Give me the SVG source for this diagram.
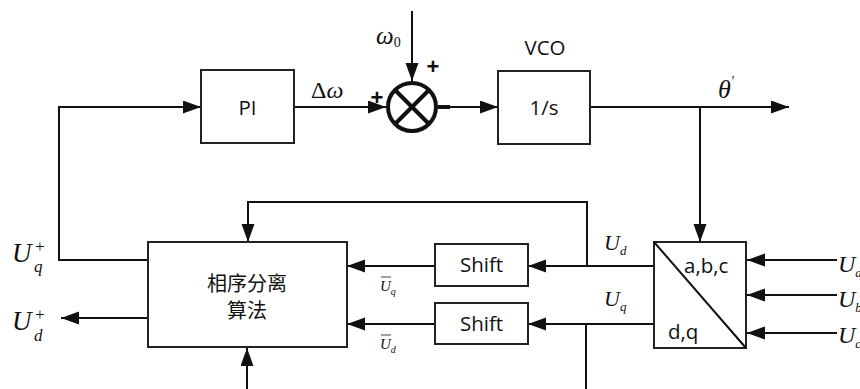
<svg xmlns="http://www.w3.org/2000/svg" width="860" height="389" viewBox="0 0 860 389">
<style>
.box{fill:#fff;stroke:#222;stroke-width:2}
.ln{fill:none;stroke:#111;stroke-width:2}
.arr{marker-end:url(#ah)}
.t{font-family:"Open Sans","Liberation Sans",sans-serif;font-size:20.5px;fill:#111}
.m{font-family:"Liberation Serif",serif;font-style:italic;fill:#111}
.cjk{font-family:"Liberation Sans","Noto Sans CJK SC",sans-serif;font-size:20px;fill:#111}
.pm{font-family:"Liberation Sans",sans-serif;font-size:22px;font-weight:bold;fill:#111}
</style>
<defs>
<marker id="ah" markerUnits="userSpaceOnUse" markerWidth="18" markerHeight="14" refX="18" refY="6.5" orient="auto">
<path d="M0,0 L18,6.5 L0,13 z" fill="#111"/>
</marker>
</defs>
<g id="connectors">
<polyline class="ln arr" points="148,260 59,260 59,107 201,107"/>
<line class="ln arr" x1="294" y1="107" x2="386" y2="107"/>
<line class="ln arr" x1="412" y1="11" x2="412" y2="81"/>
<line x1="438" y1="107" x2="450" y2="107" stroke="#111" stroke-width="4"/>
<line class="ln arr" x1="450" y1="107" x2="498" y2="107"/>
<line class="ln arr" x1="590" y1="107" x2="789" y2="107"/>
<line class="ln arr" x1="700" y1="107" x2="700" y2="242"/>
<line class="ln arr" x1="837" y1="260" x2="747" y2="260"/>
<line class="ln arr" x1="837" y1="295" x2="747" y2="295"/>
<line class="ln arr" x1="837" y1="333" x2="747" y2="333"/>
<line class="ln arr" x1="654" y1="266" x2="528" y2="266"/>
<line class="ln arr" x1="654" y1="324" x2="528" y2="324"/>
<line class="ln arr" x1="435" y1="266" x2="347" y2="266"/>
<line class="ln arr" x1="435" y1="324" x2="347" y2="324"/>
<polyline class="ln arr" points="587,266 587,202 248,202 248,242"/>
<line class="ln" x1="586" y1="324" x2="586" y2="389"/>
<line class="ln arr" x1="247" y1="389" x2="247" y2="348"/>
<line class="ln arr" x1="148" y1="318" x2="61" y2="318"/>
</g>
<g id="pi">
<rect class="box" x="201" y="70" width="93" height="73"/>
<text class="t" x="247.5" y="115" text-anchor="middle">PI</text>
</g>
<g id="sum">
<circle cx="412" cy="107" r="24" fill="#fff" stroke="#111" stroke-width="4"/>
<line x1="395" y1="90" x2="429" y2="124" stroke="#111" stroke-width="4"/>
<line x1="429" y1="90" x2="395" y2="124" stroke="#111" stroke-width="4"/>
<text class="pm" x="433" y="74" text-anchor="middle">+</text>
<text class="pm" x="377" y="105" text-anchor="middle">+</text>
</g>
<g id="vco">
<rect class="box" x="498" y="71" width="92" height="73"/>
<text class="t" x="544" y="115" text-anchor="middle">1/s</text>
<text class="t" x="545" y="55" text-anchor="middle">VCO</text>
</g>
<g id="transform">
<rect class="box" x="654" y="242" width="92" height="106"/>
<line class="ln" x1="654" y1="242" x2="746" y2="348"/>
<text class="t" x="684" y="273">a,b,c</text>
<text class="t" x="668" y="339">d,q</text>
</g>
<g id="shift1">
<rect class="box" x="435" y="244" width="93" height="42"/>
<text class="t" x="481.5" y="272" text-anchor="middle">Shift</text>
</g>
<g id="shift2">
<rect class="box" x="435" y="303" width="93" height="41"/>
<text class="t" x="481.5" y="331" text-anchor="middle">Shift</text>
</g>
<g id="separation">
<rect class="box" x="148" y="242" width="199" height="105"/>
<text class="cjk" x="247" y="291" text-anchor="middle">相序分离</text>
<text class="cjk" x="247" y="318" text-anchor="middle">算法</text>
</g>
<g id="labels">
<text class="m" x="376" y="44" font-size="25">ω<tspan font-size="14" font-style="normal" dy="3">0</tspan></text>
<text class="m" x="311" y="98" font-size="24"><tspan font-style="normal">Δ</tspan>ω</text>
<text class="m" x="718" y="98" font-size="26">θ<tspan font-size="14" dy="-12">'</tspan></text>
<text class="m" x="604" y="250" font-size="22">U<tspan font-size="13" dy="5">d</tspan></text>
<text class="m" x="604" y="306" font-size="22">U<tspan font-size="13" dy="5">q</tspan></text>
<text class="m" x="380" y="291" font-size="15" fill="#444">U<tspan font-size="10" dy="4">q</tspan></text>
<line x1="381" y1="277" x2="391" y2="277" stroke="#444" stroke-width="1"/>
<text class="m" x="380" y="349" font-size="15" fill="#444">U<tspan font-size="10" dy="4">d</tspan></text>
<line x1="381" y1="335" x2="391" y2="335" stroke="#444" stroke-width="1"/>
<text class="m" x="12" y="262" font-size="27">U</text>
<text class="m" x="34" y="252" font-size="17" font-style="normal">+</text>
<text class="m" x="34" y="272" font-size="17">q</text>
<text class="m" x="12" y="330" font-size="27">U</text>
<text class="m" x="34" y="320" font-size="17" font-style="normal">+</text>
<text class="m" x="34" y="341" font-size="17">d</text>
<text class="m" x="838" y="272" font-size="24">U<tspan font-size="13" dy="5">a</tspan></text>
<text class="m" x="838" y="307" font-size="24">U<tspan font-size="13" dy="5">b</tspan></text>
<text class="m" x="838" y="343" font-size="24">U<tspan font-size="13" dy="5">c</tspan></text>
</g>
</svg>
